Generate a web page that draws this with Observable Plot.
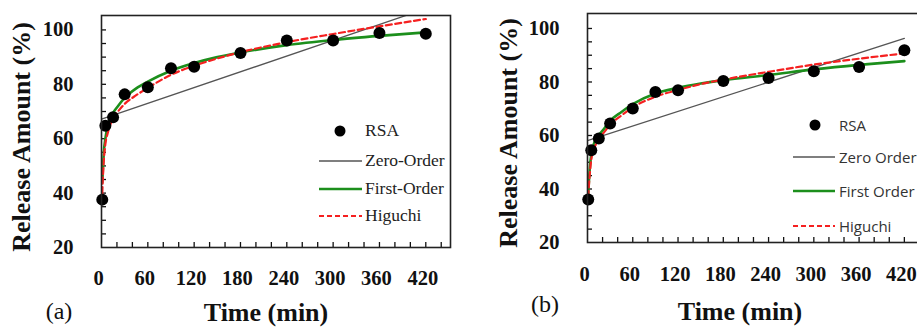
<!DOCTYPE html>
<html><head><meta charset="utf-8">
<script src="https://cdn.jsdelivr.net/npm/d3@7"></script>
<script src="https://cdn.jsdelivr.net/npm/@observablehq/plot@0.6"></script>
<style>
html,body{margin:0;padding:0;background:#fff;}
#wrap{position:relative;width:917px;height:328px;overflow:hidden;background:#fff;}
.abs{position:absolute;white-space:nowrap;line-height:1;}
</style></head>
<body><div id="wrap"></div>
<script>
// ---- data ----
const sampleTimes = [1, 5, 15, 30, 60, 90, 120, 180, 240, 300, 360, 420];
const rsaA = [37.6, 64.8, 67.9, 76.3, 78.9, 85.9, 86.5, 91.5, 96.1, 96.1, 98.9, 98.6];
const rsaB = [36.1, 54.5, 58.9, 64.5, 70.1, 76.3, 76.9, 80.4, 81.5, 84.0, 85.6, 91.9];

const fitTimes = [1, 2, 3, 5, 8, 10, 15, 20, 30, 45, 60, 90, 120, 150, 180, 240, 300, 360, 420];
const firstOrderA = [44, 50, 55, 60, 64.5, 66.5, 69.5, 71.5, 75, 78.5, 81, 85, 87.8, 90, 91.7, 94.4, 96.3, 97.8, 99.1];
const higuchiA = [40, 47, 52, 58, 62, 64, 67.5, 69.5, 72.8, 76, 78.7, 83.5, 86.8, 89.5, 91.8, 95.5, 98.5, 101.3, 104];
const firstOrderB = [38, 43.5, 47.5, 53, 56.5, 58, 60.1, 61.8, 65.5, 68.8, 71.7, 75.7, 77.8, 79.4, 80.7, 82.6, 84.7, 86.4, 87.8];
const higuchiB = [37, 42, 45.5, 51, 54.5, 56, 58.8, 60.5, 64, 67.5, 70.5, 74.5, 77, 79.2, 80.9, 83.8, 86.5, 88.7, 90.7];

const zeroTimes = [0, 420];
const zeroOrderA = [67.2, 107.8];
const zeroOrderB = [58.1, 96.3];

const xTicks = [0, 60, 120, 180, 240, 300, 360, 420];
const xMinorTicks = [20, 40, 60, 80, 100, 120, 140, 160, 180, 200, 220, 240, 260, 280, 300, 320, 340, 360, 380, 400, 420, 440];
const yTicks = [20, 40, 60, 80, 100];
const yMinorTicks = [25, 30, 35, 40, 45, 50, 55, 60, 65, 70, 75, 80, 85, 90, 95, 100];

const legendLabelsA = ["RSA", "Zero-Order", "First-Order", "Higuchi"];
const legendLabelsB = ["RSA", "Zero Order", "First Order", "Higuchi"];

const GREEN = "#1c8f1c", RED = "#f52020", GRAY = "#555";
const SERIF = '"Liberation Serif","Times New Roman",serif';
const SANS = '"Open Sans","Noto Sans",sans-serif';

// ---- helpers ----
const wrap = document.getElementById("wrap");
const pairs = (xs, ys) => xs.map((x, i) => ({x, y: ys[i]}));

function panel({width, marginLeft, marginTop, marginBottom, yTop, xPad, rsa, first, hig, zero}) {
  return Plot.plot({
    width, height: 328,
    marginLeft, marginRight: 10, marginTop, marginBottom,
    x: {domain: [0, 452]},
    y: {domain: [20, yTop]},
    style: {fontFamily: SERIF, fontSize: "20.5px", fontWeight: "bold", color: "#111", background: "transparent", overflow: "visible"},
    marks: [
      Plot.axisY({ticks: yMinorTicks, tickSize: -5, tickFormat: () => "", label: null, strokeWidth: 1.3}),
      Plot.axisY({ticks: yTicks, tickSize: 0, tickPadding: 28, label: null}),
      Plot.axisX({ticks: xMinorTicks, tickSize: -5, tickFormat: () => "", label: null, strokeWidth: 1.3}),
      Plot.axisX({ticks: xTicks, tickSize: 0, tickPadding: xPad, dx: -3, label: null}),
      Plot.line(pairs(zeroTimes, zero), {x: "x", y: "y", stroke: GRAY, strokeWidth: 1.3, clip: true}),
      Plot.line(pairs(fitTimes, first), {x: "x", y: "y", stroke: GREEN, strokeWidth: 2.6, curve: "monotone-x", clip: true}),
      Plot.line(pairs(fitTimes, hig), {x: "x", y: "y", stroke: RED, strokeWidth: 2.2, strokeDasharray: "6,3.5", curve: "monotone-x", clip: true}),
      Plot.dot(pairs(sampleTimes, rsa), {x: "x", y: "y", r: 6, fill: "#000", stroke: "none"}),
      Plot.frame({stroke: "#222", strokeWidth: 1.6})
    ]
  });
}

function put(svg, left) {
  svg.style.position = "absolute";
  svg.style.left = left + "px";
  svg.style.top = "0px";
  wrap.appendChild(svg);
}

function text(str, family, weight, x, y, size, rotate) {
  const d = document.createElement("div");
  d.className = "abs";
  d.textContent = str;
  d.style.fontFamily = family;
  d.style.fontWeight = weight;
  d.style.color = "#111";
  d.style.left = x + "px";
  d.style.top = y + "px";
  d.style.fontSize = size + "px";
  d.style.transform = "translate(-50%,-50%)" + (rotate ? " rotate(-90deg)" : "");
  wrap.appendChild(d);
}

function legend(labels, {dotX, x0, x1, ys, textX, family, color, size}) {
  const ns = "http://www.w3.org/2000/svg";
  const svg = document.createElementNS(ns, "svg");
  svg.setAttribute("width", 917); svg.setAttribute("height", 328);
  svg.style.position = "absolute"; svg.style.left = "0"; svg.style.top = "0";
  const mk = (tag, attrs) => { const e = document.createElementNS(ns, tag); for (const k in attrs) e.setAttribute(k, attrs[k]); svg.appendChild(e); };
  mk("circle", {cx: dotX, cy: ys[0], r: 5.5, fill: "#000"});
  mk("line", {x1: x0, x2: x1, y1: ys[1], y2: ys[1], stroke: GRAY, "stroke-width": 1.4});
  mk("line", {x1: x0, x2: x1, y1: ys[2], y2: ys[2], stroke: GREEN, "stroke-width": 2.6});
  mk("line", {x1: x0, x2: x1, y1: ys[3], y2: ys[3], stroke: RED, "stroke-width": 2, "stroke-dasharray": "5,3"});
  wrap.appendChild(svg);
  labels.forEach((lab, i) => {
    const d = document.createElement("div");
    d.className = "abs";
    d.textContent = lab;
    d.style.fontFamily = family;
    d.style.color = color;
    d.style.left = textX + "px";
    d.style.top = ys[i] + "px";
    d.style.fontSize = size + "px";
    d.style.transform = "translate(0,-50%)";
    wrap.appendChild(d);
  });
}

// ---- panel (a) ----
put(panel({width: 460, marginLeft: 101, marginTop: 15, marginBottom: 81, yTop: 105.3, xPad: 23,
  rsa: rsaA, first: firstOrderA, hig: higuchiA, zero: zeroOrderA}), 0);
// ---- panel (b) ----
put(panel({width: 478, marginLeft: 127, marginTop: 13, marginBottom: 86, yTop: 105.6, xPad: 24,
  rsa: rsaB, first: firstOrderB, hig: higuchiB, zero: zeroOrderB}), 460);

legend(legendLabelsA, {dotX: 340, x0: 319, x1: 362, ys: [131, 161, 189, 216], textX: 365, family: SERIF, color: "#222", size: 17.5});
legend(legendLabelsB, {dotX: 815, x0: 793, x1: 835, ys: [125, 157, 191, 226], textX: 839, family: SANS, color: "#333", size: 15});

text("Release Amount (%)", SERIF, "bold", 22, 137, 26, true);
text("Release Amount (%)", SERIF, "bold", 509, 133, 26, true);
text("Time (min)", SERIF, "bold", 266, 313, 26, false);
text("Time (min)", SERIF, "bold", 740, 312, 26, false);
text("(a)", SERIF, "normal", 59, 311, 24, false);
text("(b)", SERIF, "normal", 545, 304, 24, false);
</script>
</body></html>
